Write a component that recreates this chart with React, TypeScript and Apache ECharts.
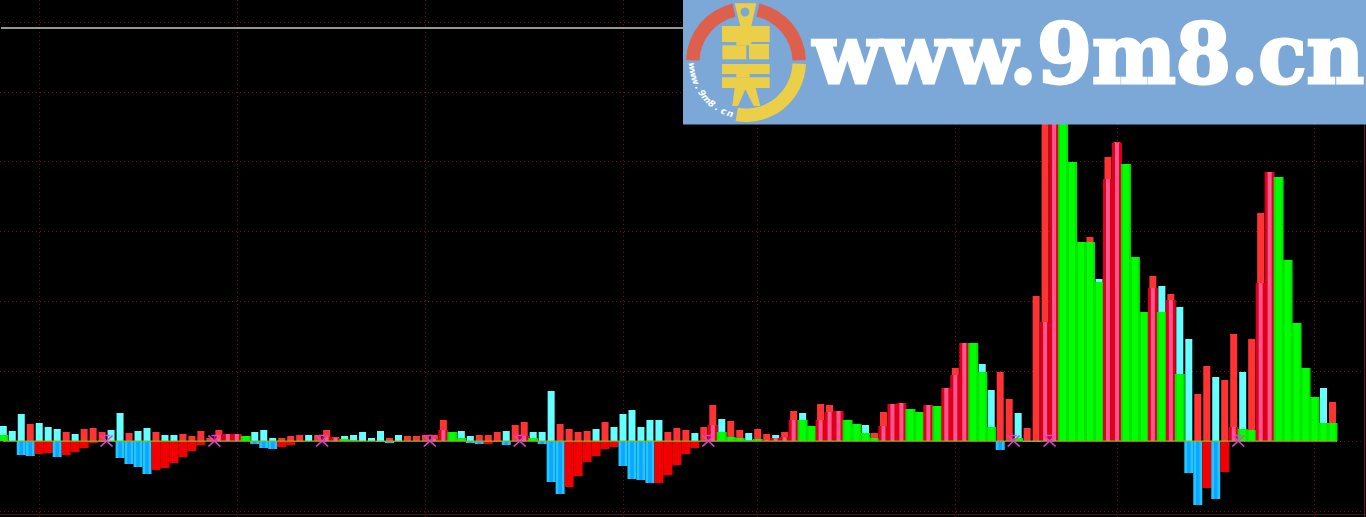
import React, { useEffect, useRef } from "react";
import * as echarts from "echarts";

// Upper bars: height above the zero line
const topValues = [15,10,27,17,18,14,12,9,7,12,13,9,11,28,8,10,13,9,6,6,7,5,10,3,11,7,7,0,9,11,3,3,5,6,6,6,11,4,
  5,6,9,3,10,3,6,5,5,6,6,21,0,10,5,6,6,9,10,16,19,9,9,50,17,12,9,10,12,19,14,27,31,14,21,21,9,13,
  11,8,14,36,22,20,11,8,12,7,6,9,30,28,0,37,36,30,0,0,16,8,29,37,38,0,0,36,0,53,73,98,0,77,51,69,42,28,
  13,145,330,345,0,0,0,204,162,284,299,0,0,0,165,155,147,134,102,47,75,64,61,107,69,102,228,269,0,0,0,0,0,53,39];
// Indices of the upper bars that are red (the others are cyan)
const redTop = [3,7,9,10,11,14,17,20,21,22,23,24,25,26,27,31,32,33,35,36,37,43,45,46,47,48,49,53,54,55,57,58,62,63,64,65,67,74,75,76,78,79,81,82,84,85,87,88,91,92,93,97,98,99,100,103,105,106,107,111,112,114,115,116,117,121,123,124,128,130,133,134,136,137,139,140,141,148];

// Overlaid upper bars
const midValues = [6,0,0,0,0,0,0,0,0,0,0,0,0,0,0,0,0,0,0,0,0,0,0,0,6,7,7,5,0,0,0,0,0,0,0,0,4,3,
  2,1,0,0,0,0,0,0,0,0,2,11,9,3,0,0,0,0,0,0,5,3,0,0,0,0,0,0,0,0,0,0,0,0,0,0,0,0,
  0,0,0,16,9,4,3,1,2,1,3,4,21,21,15,21,29,30,21,17,8,3,15,37,38,32,29,36,35,53,66,98,98,69,14,0,0,3,
  0,0,119,345,345,279,199,199,159,262,298,277,184,129,153,129,141,67,0,0,0,0,0,14,12,11,158,269,264,181,118,73,44,18,18];
// Indices of the overlaid bars that are green (the others are deep red with a pink core)
const greenMid = [0,27,38,39,50,51,59,80,81,82,83,84,89,90,94,95,96,97,101,102,104,108,109,110,113,118,119,120,121,122,125,126,127,129,131,138,139,142,143,144,145,146,147,148];

// Lower bars: below the zero line
const lowValues = [0,0,-14,-15,-13,-12,-16,-14,-11,-7,-2,-1,0,-17,-23,-26,-33,-29,-27,-22,-16,-10,-4,0,0,0,0,0,-3,-7,-8,-6,-4,-1,0,0,0,0,
  0,0,0,0,-1,-2,-1,0,0,0,0,0,0,0,-2,-3,-3,-1,-4,0,0,0,-3,-41,-53,-46,-35,-21,-15,-8,-6,-25,-38,-39,-42,-42,-34,-24,
  -13,-7,0,0,0,0,0,0,0,0,0,0,0,0,0,0,0,0,0,0,0,0,0,0,0,0,0,0,0,0,0,0,0,0,0,-9,0,0,
  -1,-1,0,0,0,0,0,0,0,0,0,0,0,0,0,0,0,0,-32,-64,-47,-58,-31,0,0,0,0,0,0,0,0,0,0,0,0];
// Indices of the lower bars that are blue (the others are red)
const lowBlue = [2,3,6,13,14,15,16,28,29,30,42,43,52,53,56,60,61,62,69,70,71,72,111,114,115,132,133,135];

const crossIndices = [12,24,36,48,58,79,113,117,138];
const dateLines = [4,26,47,69,84,106,124,146];
const gridValues = { min: -70, max: 420, step: 70 };
const whiteLine = [[1,414],[1362,414]];
const zeroLine = [[3,0],[1337,0]];
const categories = topValues.map((_, i) => String(i));

const COLORS = {
  cyan: "#66ffff", red: "#ff3333", green: "#00e400", greenCore: "#00ff00",
  deep: "#de0018", pink: "#ff5590", blue: "#1fc6ff", blueCore: "#0ea4ff", lowRed: "#f20000",
  grid: "#661616",
};

function logoGraphic() {
  const cx = 746, cy = 62;
  const deg = (d: number) => (d * Math.PI) / 180;
  const Z = (x: number, y: number) => [683 + x / 3, y / 3];
  const yellow = "#eccf48", bg = "#7ca8d8", redc = "#dc604c";
  const poly = (pts: number[][], fill = yellow) => ({
    type: "polygon", z: 101, silent: true,
    shape: { points: pts.map(([x, y]) => Z(x, y)) }, style: { fill },
  });
  const chars = "www.9m8.cn".split("");
  const small = chars.map((c, i) => {
    const a = 175 - (i * 68) / (chars.length - 1);
    return {
      type: "text", z: 102, silent: true,
      x: cx + 54 * Math.cos(deg(a)), y: cy + 54 * Math.sin(deg(a)),
      rotation: -deg(a - 90),
      style: { text: c, fill: "#ffffff", font: "italic bold 9px 'DejaVu Sans'", align: "center", verticalAlign: "middle" },
    };
  });
  return [
    { type: "rect", z: 100, silent: true, shape: { x: 683, y: 0, width: 683, height: 124.5 }, style: { fill: bg } },
    { type: "sector", z: 101, silent: true, shape: { cx, cy, r0: 46.5, r: 60, startAngle: deg(182), endAngle: deg(257) }, style: { fill: redc } },
    { type: "sector", z: 101, silent: true, shape: { cx, cy, r0: 46.5, r: 60, startAngle: deg(283), endAngle: deg(358) }, style: { fill: redc } },
    { type: "sector", z: 101, silent: true, shape: { cx, cy, r0: 46.5, r: 60, startAngle: deg(2), endAngle: deg(100) }, style: { fill: yellow } },
    poly([[155,10],[220,10],[205,78],[172,78]]),
    { type: "circle", z: 102, silent: true, shape: { cx: 683 + 62, cy: 12, r: 4.5 }, style: { fill: bg } },
    poly([[117,78],[260,78],[260,126],[117,126]]),
    poly([[160,126],[205,126],[205,136],[160,136]]),
    poly([[118,136],[190,136],[190,178],[118,178]]),
    poly([[198,132],[258,132],[258,178],[198,178]]),
    poly([[117,192],[260,192],[260,222],[117,222]]),
    poly([[160,222],[200,222],[200,232],[160,232]]),
    poly([[117,232],[260,232],[260,264],[117,264]]),
    poly([[155,264],[218,264],[232,318],[148,318]]),
    poly([[187,268],[212,318],[165,318]], bg),
    {
      type: "text", z: 102, silent: true, x: 813, y: 95, scaleX: 0.965,
      style: { text: "www.9m8.cn", fill: "#ffffff", stroke: "#ffffff", lineWidth: 3, font: "bold 82px 'DejaVu Serif'", align: "left", verticalAlign: "bottom" },
    },
    ...small,
  ];
}

export default function App() {
  const ref = useRef<HTMLDivElement>(null);
  useEffect(() => {
    document.body.style.margin = "0";
    document.body.style.background = "#000";
    const chart = echarts.init(ref.current!, undefined, { renderer: "svg" });

    const isRedTop = new Set(redTop);
    const isGreen = new Set(greenMid);
    const isBlue = new Set(lowBlue);

    const seriesBars: any[] = [
      { name: "top", barWidth: 7, data: topValues.map((v, i) => ({ value: v, itemStyle: { color: isRedTop.has(i) ? COLORS.red : COLORS.cyan } })) },
      { name: "mid", barWidth: 10, data: midValues.map((v, i) => ({ value: v, itemStyle: { color: isGreen.has(i) ? COLORS.green : COLORS.deep } })) },
      { name: "midCore", barWidth: 6, data: midValues.map((v, i) => (isGreen.has(i) ? { value: v, itemStyle: { color: COLORS.greenCore } } : { value: 0 })) },
      { name: "pinkCore", barWidth: 4, data: midValues.map((v, i) => (isGreen.has(i) ? { value: 0 } : { value: v, itemStyle: { color: COLORS.pink } })) },
      { name: "low", barWidth: 9, data: lowValues.map((v, i) => ({ value: v, itemStyle: { color: isBlue.has(i) ? COLORS.blue : COLORS.lowRed } })) },
      { name: "lowCore", barWidth: 3.5, data: lowValues.map((v, i) => (isBlue.has(i) ? { value: v, itemStyle: { color: COLORS.blueCore } } : { value: 0 })) },
    ];

    const xAxes: any[] = seriesBars.map((_, k) => ({
      type: "category", gridIndex: 0, data: categories, boundaryGap: false,
      show: k === 0,
      axisLine: { show: false }, axisTick: { show: false }, axisLabel: { show: false },
      splitLine: k === 0
        ? { show: true, interval: (i: number) => dateLines.includes(i), lineStyle: { color: COLORS.grid, width: 1, type: [1, 3] } }
        : { show: false },
    }));
    const crossAxis = xAxes.length;
    xAxes.push({ type: "category", gridIndex: 0, data: categories, boundaryGap: false, show: false });
    const fullAxis = xAxes.length;
    xAxes.push({ type: "value", gridIndex: 1, min: 0, max: 1362, show: false, splitLine: { show: false } });

    chart.setOption({
      animation: false,
      backgroundColor: "#000000",
      grid: [
        { left: 3.3, width: 1329.2, top: 0, height: 517, containLabel: false },
        { left: 0, width: 1362, top: 22, height: 489, containLabel: false },
      ],
      xAxis: xAxes,
      yAxis: [
        { type: "value", gridIndex: 0, min: -76, max: 441, show: false, splitLine: { show: false } },
        {
          type: "value", gridIndex: 1, min: gridValues.min, max: gridValues.max, interval: gridValues.step,
          axisLine: { show: false }, axisTick: { show: false }, axisLabel: { show: false },
          splitLine: { show: true, lineStyle: { color: COLORS.grid, width: 1, type: [1, 3] } },
        },
      ],
      series: [
        ...seriesBars.map((s, k) => ({
          ...s, type: "bar", xAxisIndex: k, yAxisIndex: 0, clip: false, silent: true, z: 2 + k,
        })),
        {
          type: "line", xAxisIndex: fullAxis, yAxisIndex: 1, data: zeroLine, symbol: "none", silent: true, z: 10,
          lineStyle: { color: "#8fb814", width: 1.2 },
        },
        {
          type: "line", xAxisIndex: fullAxis, yAxisIndex: 1, data: whiteLine, symbol: "none", silent: true, z: 10,
          lineStyle: { color: "#c8c8c8", width: 1.4 },
        },
        {
          type: "scatter", xAxisIndex: crossAxis, yAxisIndex: 0, silent: true, z: 11,
          data: crossIndices.map((i) => [String(i), 0]),
          symbol: "path://M0 0L10 10M10 0L0 10M2.5 0L7.5 0",
          symbolSize: [12, 11], symbolOffset: [-4.5, 0],
          itemStyle: { color: "rgba(0,0,0,0)", borderColor: "#e040d8", borderWidth: 1.6, opacity: 1 },
        },
      ],
      graphic: [
        { type: "rect", z: 1, silent: true, shape: { x: 1364, y: 0, width: 1, height: 517 }, style: { fill: COLORS.grid } },
        { type: "rect", z: 1, silent: true, shape: { x: 0, y: 514, width: 1366, height: 1 }, style: { fill: "#4a1010" } },
        ...logoGraphic(),
      ],
    });
    return () => chart.dispose();
  }, []);
  return <div ref={ref} style={{ position: "absolute", left: 0, top: 0, width: 1366, height: 517 }} />;
}
